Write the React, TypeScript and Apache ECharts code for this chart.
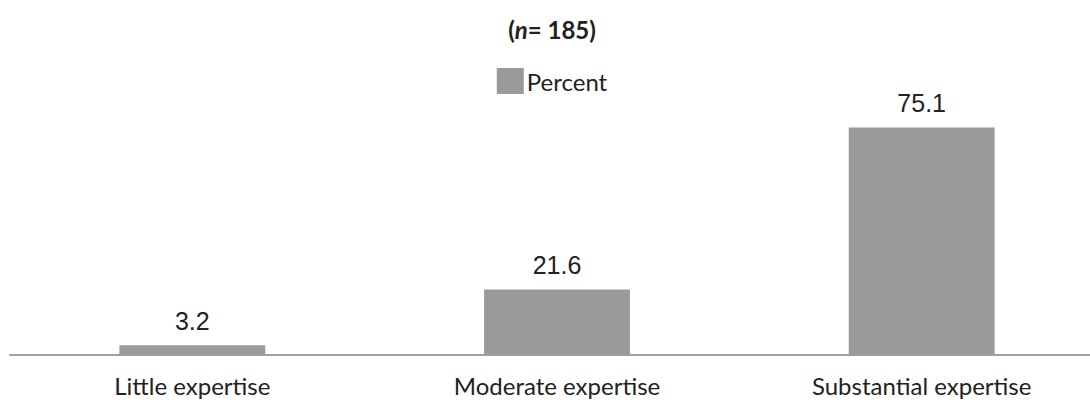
import React, { useEffect, useRef } from "react";
import * as echarts from "echarts";

const categories = ["Little expertise", "Moderate expertise", "Substantial expertise"];
const percentValues = [3.2, 21.6, 75.1];
const seriesName = "Percent";
const titleText = "({i|n}= 185)";

export default function App() {
  const ref = useRef<HTMLDivElement>(null);
  useEffect(() => {
    if (!ref.current) return;
    const chart = echarts.init(ref.current, null, { renderer: "svg" });
    chart.setOption({
      animation: false,
      backgroundColor: "#ffffff",
      title: {
        text: titleText,
        left: "center",
        top: 12,
        textStyle: {
          fontFamily: "Lato",
          fontWeight: "bold",
          fontSize: 24,
          color: "#222222",
          rich: {
            i: { fontFamily: "Lato", fontStyle: "italic", fontWeight: "bold", fontSize: 24, color: "#222222" },
          },
        },
      },
      legend: {
        data: [seriesName],
        top: 63,
        left: "center",
        icon: "rect",
        itemWidth: 27,
        itemHeight: 26,
        itemGap: 4,
        textStyle: { fontFamily: "Lato", fontSize: 24, color: "#222222", padding: [0, 0, 0, -2] },
      },
      grid: { left: 10, right: 0, top: 52, bottom: 49, containLabel: false },
      xAxis: {
        type: "category",
        data: categories,
        axisLine: { lineStyle: { color: "#a0a0a0", width: 2 } },
        axisTick: { show: false },
        axisLabel: { fontFamily: "Lato", fontSize: 24, color: "#222222", margin: 18 },
      },
      yAxis: {
        type: "value",
        min: 0,
        max: 100,
        show: false,
        splitLine: { show: false },
      },
      series: [
        {
          name: seriesName,
          type: "bar",
          data: percentValues,
          barWidth: "40%",
          itemStyle: { color: "#999a9b" },
          label: {
            show: true,
            position: "top",
            distance: 12,
            fontFamily: "Liberation Sans",
            fontSize: 25,
            color: "#222222",
            formatter: (p: any) => p.value.toFixed(1),
          },
        },
      ],
    });
    return () => chart.dispose();
  }, []);
  return (
    <div style={{ position: "absolute", left: 0, top: 0, width: 1090, height: 404, overflow: "hidden" }}>
      <div ref={ref} style={{ width: 1103.5, height: 404 }} />
    </div>
  );
}
